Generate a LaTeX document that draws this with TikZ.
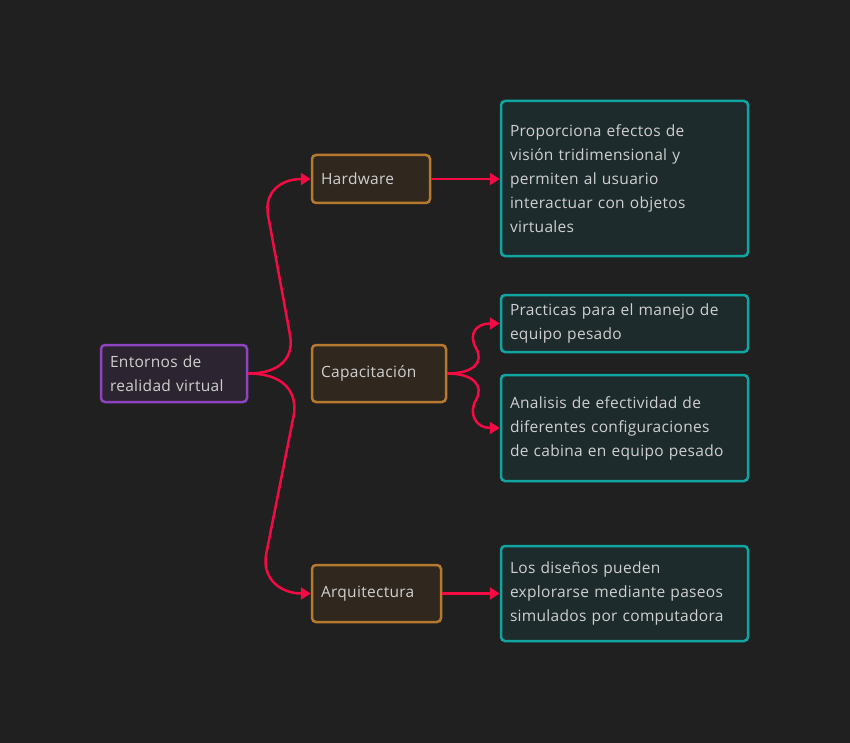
\documentclass[tikz,border=0pt]{standalone}
\usepackage{fontspec}
\setmainfont[LetterSpace=2]{Open Sans}
\usetikzlibrary{arrows.meta}
\definecolor{bgc}{HTML}{202020}
\definecolor{txt}{HTML}{CFCFCF}
\definecolor{rootfill}{HTML}{2C2430}
\definecolor{rootline}{HTML}{8E44C0}
\definecolor{midfill}{HTML}{30281F}
\definecolor{midline}{HTML}{B7792D}
\definecolor{leaffill}{HTML}{1E2B2C}
\definecolor{leafline}{HTML}{10A5A0}
\definecolor{conc}{HTML}{F50A43}
\begin{document}
\begin{tikzpicture}[x=1pt,y=-1pt,
  box/.style={draw, line width=2.5pt, rounded corners=4pt, inner xsep=9pt, inner ysep=0pt,
    align=left, text=txt, font=\fontsize{15.5}{24}\selectfont, anchor=center},
  rootbox/.style={box, draw=rootline, fill=rootfill},
  midbox/.style={box, draw=midline, fill=midfill},
  leafbox/.style={box, draw=leafline, fill=leaffill},
  conn/.style={draw=conc, line width=2.5pt, -{Triangle[length=10pt,width=12pt]}}]
\fill[bgc] (0,0) rectangle (850,743);
\useasboundingbox (0,0) rectangle (850,743);

\node[rootbox, text width=128pt, minimum height=57pt] (root) at (174,373.5) {Entornos de\\realidad virtual};
\node[midbox, text width=100pt, minimum height=48pt] (hw) at (371,179) {Hardware};
\node[midbox, text width=116pt, minimum height=57pt] (cap) at (379,373.5) {Capacitación};
\node[midbox, text width=111pt, minimum height=57pt] (arq) at (376.5,593.5) {Arquitectura};

\node[leafbox, text width=229pt, minimum height=155pt] (l1) at (624.5,178.5) {Proporciona efectos de\\visión tridimensional y\\permiten al usuario\\interactuar con objetos\\virtuales};
\node[leafbox, text width=229pt, minimum height=57pt] (l2) at (624.5,323.5) {Practicas para el manejo de\\equipo pesado};
\node[leafbox, text width=229pt, minimum height=106pt] (l3) at (624.5,428) {Analisis de efectividad de\\diferentes configuraciones\\de cabina en equipo pesado};
\node[leafbox, text width=229pt, minimum height=95pt] (l4) at (624.5,593.5) {Los diseños pueden\\explorarse mediante paseos\\simulados por computadora};

\draw[conn] (root.east) .. controls (282,373.5) and (294,356) .. (290,335) -- (268,215) .. controls (264,191) and (282,179) .. (hw.west);
\draw[conn] (root.east) .. controls (284,373.5) and (297,392) .. (294,414) -- (266,555) .. controls (262,580) and (282,593.5) .. (arq.west);
\draw[conn] (hw.east) -- (hw.east -| l1.west);
\draw[conn] (arq.east) -- (arq.east -| l4.west);
\draw[conn] (cap.east) .. controls (474,373.5) and (484,362) .. (476,348) .. controls (468,334) and (476,323.5) .. (l2.west);
\draw[conn] (cap.east) .. controls (474,373.5) and (484,386) .. (476,400) .. controls (468,414) and (476,428) .. (l3.west);
\end{tikzpicture}
\end{document}
